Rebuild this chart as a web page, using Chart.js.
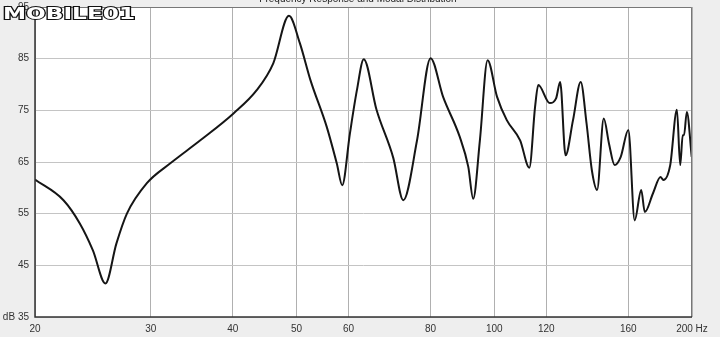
<!DOCTYPE html>
<html>
<head>
<meta charset="utf-8">
<script src="https://cdn.jsdelivr.net/npm/chart.js@4"></script>
<style>
  html, body { margin: 0; padding: 0; background: #eeeeee; }
  #wrap { position: relative; width: 720px; height: 337px; }
</style>
</head>
<body>
<div id="wrap"><canvas id="responseChart"></canvas></div>
<script>
// values
const freqs = [20, 22.1, 23.4, 24.5, 25.6, 26.6, 27.6, 29.6, 32.1, 35.7, 40.1, 43.5, 46.1, 48.7,
  50.6, 52.5, 55.6, 57.6, 58.7, 60.3, 61.8, 63.3, 66.2, 70.2, 72.7, 76.3, 80.0, 83.6, 88.6,
  91.3, 92.9, 95.1, 97.7, 101.0, 104.5, 109.5, 113.1, 115.4, 116.7, 121.5, 124.2, 126.0,
  128.4, 131.8, 135.4, 138.2, 140.8, 143.4, 146.8, 149.5, 152.5, 155.8, 160.0, 163.6, 167.4,
  169.5, 174.4, 179.1, 180.9, 185.3, 189.7, 191.9, 193.6, 194.5, 196.4, 199.8];
const levels = [61.6, 57.6, 53.1, 47.9, 41.5, 49.2, 55.0, 60.9, 64.7, 69.2, 74.4, 78.9, 84.1, 93.3,
  88.0, 80.9, 71.8, 64.7, 60.5, 70.5, 78.9, 84.9, 75.1, 65.8, 57.6, 69.2, 85.1, 77.6, 69.9,
  64.1, 57.9, 69.2, 84.7, 77.6, 73.1, 69.2, 63.9, 75.7, 79.9, 76.4, 77.3, 80.5,
  66.3, 73.1, 80.5, 72.5, 63.4, 59.6, 73.4, 68.6, 64.4, 66.0, 71.2, 53.7, 59.6,
  55.3, 58.9, 62.1, 61.5, 64.4, 75.1, 64.4, 70.2, 70.2, 74.7, 66.0];
const freqTicks = [20, 30, 40, 50, 60, 80, 100, 120, 160, 200];
const dbTicks = [35, 45, 55, 65, 75, 85, 95];
const chartTitle = 'Frequency Response and Modal Distribution';

const points = freqs.map((f, i) => ({x: f, y: levels[i]}));

// white plot area, frame, cut-off title and the logo watermark
const decor = {
    id: 'decor',
    beforeDraw(chart) {
        const {ctx, chartArea: a} = chart;
        ctx.save();
        ctx.fillStyle = '#ffffff';
        ctx.fillRect(a.left, a.top, a.right - a.left, a.bottom - a.top);
        ctx.restore();
    },
    afterDatasetsDraw(chart) {
        const {ctx, chartArea: a} = chart;
        ctx.save();
        ctx.strokeStyle = '#777';
        ctx.lineWidth = 1;
        ctx.beginPath();
        ctx.moveTo(a.left, a.top + 0.5);
        ctx.lineTo(a.right - 0.5, a.top + 0.5);
        ctx.lineTo(a.right - 0.5, a.bottom);
        ctx.stroke();
        ctx.strokeStyle = '#333';
        ctx.lineWidth = 1.5;
        ctx.beginPath();
        ctx.moveTo(a.left, a.top);
        ctx.lineTo(a.left, a.bottom);
        ctx.lineTo(a.right, a.bottom);
        ctx.stroke();

        ctx.fillStyle = '#222';
        ctx.font = '10px "Liberation Sans", Arial, sans-serif';
        ctx.textAlign = 'center';
        ctx.textBaseline = 'alphabetic';
        ctx.fillText(chartTitle, 358, 2);

        // logo, stretched wide like the original
        ctx.translate(3, 15);
        ctx.scale(1.45, 1);
        ctx.font = 'bold 16px "DejaVu Sans", sans-serif';
        ctx.textAlign = 'left';
        ctx.textBaseline = 'middle';
        ctx.lineWidth = 2;
        ctx.strokeStyle = '#111';
        ctx.fillStyle = '#fff';
        ctx.strokeText('MOBILE01', 0, 0);
        ctx.fillText('MOBILE01', 0, 0);
        ctx.restore();
    }
};

new Chart(document.getElementById('responseChart'), {
    type: 'line',
    data: {
        datasets: [{
            label: 'Response',
            data: points,
            borderColor: '#151515',
            borderWidth: 2,
            pointRadius: 0,
            fill: false,
            cubicInterpolationMode: 'monotone'
        }]
    },
    plugins: [decor],
    options: {
        responsive: true,
        maintainAspectRatio: false,
        animation: false,
        layout: {padding: {top: 7, right: 28, left: 0, bottom: 0}},
        plugins: {
            legend: {display: false},
            tooltip: {enabled: false}
        },
        scales: {
            x: {
                type: 'logarithmic',
                min: 20,
                max: 200,
                afterBuildTicks: (scale) => {
                    scale.ticks = freqTicks.map(v => ({value: v}));
                },
                afterFit: (scale) => {
                    scale.height = 20;
                    scale.paddingLeft = 0;
                    scale.paddingRight = 0;
                },
                ticks: {
                    autoSkip: false,
                    maxRotation: 0,
                    padding: 6,
                    color: '#333',
                    font: {family: '"Liberation Sans", Arial, sans-serif', size: 10},
                    callback: (v) => v === 200 ? '200 Hz' : String(v)
                },
                grid: {color: '#b0b0b0', drawTicks: false},
                border: {display: false}
            },
            y: {
                min: 35,
                max: 95,
                afterBuildTicks: (scale) => {
                    scale.ticks = dbTicks.map(v => ({value: v}));
                },
                afterFit: (scale) => {
                    scale.width = 35;
                    scale.paddingTop = 0;
                    scale.paddingBottom = 0;
                },
                ticks: {
                    padding: 6,
                    color: '#333',
                    font: {family: '"Liberation Sans", Arial, sans-serif', size: 10},
                    callback: (v) => v === 35 ? 'dB 35' : String(v)
                },
                grid: {color: '#c4c4c4', drawTicks: false},
                border: {display: false}
            }
        }
    }
});
</script>
</body>
</html>
